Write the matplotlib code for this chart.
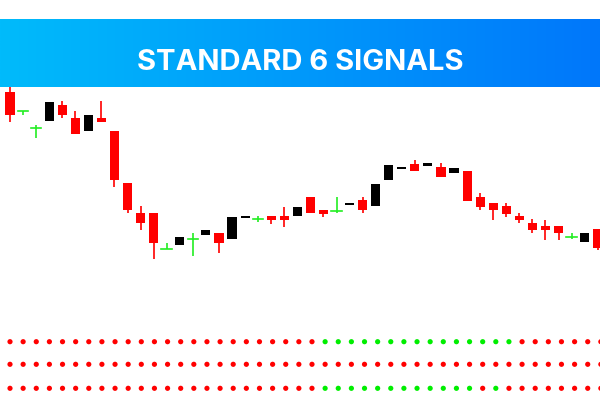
import numpy as np
import matplotlib
matplotlib.use("Agg")
import matplotlib.pyplot as plt
from matplotlib.patches import Rectangle
from matplotlib.colors import LinearSegmentedColormap

# Candle data (price units = 400 - screen y)
px_open  = [91.7,111,127.7,120.7,105,118,130.7,118.3,131,183.3,213,213,249.3,245.3,239.3,235.3,232.7,238.7,218,219.3,216.3,216.3,216,196.7,210,210.7,205,200,206,180,169,164,165.7,166.7,173.3,170.7,196.7,202.7,206,216,222.7,226,226,236.7,242.3,229.3]
px_close = [115,111,127.7,102.3,114.7,134.3,115.3,121.7,180.3,210.3,223.3,243,249.3,237,239.3,230.3,243,217,218,219.3,220,220,207.3,213.3,213.7,210.7,205,210,184.3,164.7,169,170.7,165.7,177.3,168.3,200.7,206.7,210.3,213.7,220,230,230,233,236.7,233.3,248]
px_high  = [86,111,124.7,102.3,101,111,115.3,101,131,183.3,206,213,242.7,237,233,230.3,232.7,217,218,216,216.3,207,207.3,196.7,210,196.7,205,197,184.3,164.7,169,160,165.7,163,168.3,170.7,193,202.7,203,213,219,220,226,233,233.3,229.3]
px_low   = [121.7,115,137.7,120.7,118,134.3,130.7,121.7,187.3,213,230,259.3,249.3,245.3,256,235.3,253,238.7,218,222,224,227,216,213.3,217,213,205,213,206,180,169,170.7,165.7,177.3,173.3,200.7,210,220,217,223,233,240,240,239,242.3,250]
kinds = ['r','g','g','k','r','r','k','r','r','r','r','r','g','k','g','k','r','k','k','g','r','r','k','r','r','g','k','r','k','k','k','r','k','r','k','r','r','r','r','r','r','r','r','g','k','r']

# Signal dot rows: 1 = green, 0 = red
n_dots = 46
row1 = [1 if 24 <= i <= 38 else 0 for i in range(n_dots)]
row2 = [0]*n_dots
row3 = [1 if (24 <= i <= 35 or i == 37) else 0 for i in range(n_dots)]

title = "STANDARD 6 SIGNALS"

fig = plt.figure(figsize=(6, 4), dpi=100)

# Candles
ax = fig.add_axes([0, 0, 1, 1])
ax.set_xlim(-10/13.06, 590/13.06)
ax.set_ylim(0, 400)
ax.axis('off')
cmap = {'r': '#ff0000', 'k': '#000000', 'g': '#22ee22'}
for i, k in enumerate(kinds):
    o, c, h, l = [400 - v for v in (px_open[i], px_close[i], px_high[i], px_low[i])]
    col = cmap[k]
    ax.plot([i, i], [l, h], color=col, lw=1.2, solid_capstyle='butt', zorder=2)
    if k == 'g':
        ax.plot([i-0.4, i+0.4], [o, o], color=col, lw=1.2, zorder=3)
    else:
        b = min(o, c); ht = max(abs(o - c), 2.5)
        ax.add_patch(Rectangle((i-0.35, b), 0.7, ht, color=col, zorder=3, lw=0))

# Dots
ax2 = fig.add_axes([0, 0, 1, 1])
ax2.set_xlim(-10/13.13, (600-10)/13.13)
ax2.set_ylim(0, 400)
ax2.axis('off')
xs = np.arange(n_dots)
for row, y in zip([row1, row2, row3], [400-341.7, 400-364.3, 400-388.3]):
    cols = ['#00ee00' if v else '#ff0000' for v in row]
    ax2.scatter(xs, [y]*n_dots, c=cols, s=14, lw=0)

# Banner
ax3 = fig.add_axes([0, 1-86.7/400, 1, (86.7-18.7)/400])
grad = np.linspace(0, 1, 256).reshape(1, -1)
bcm = LinearSegmentedColormap.from_list('b', ['#00bbfb', '#0077fa'])
ax3.imshow(grad, aspect='auto', cmap=bcm, extent=[0, 1, 0, 1])
ax3.axis('off')
ax3.text(0.5, 0.35, title, ha='center', va='center', color='white',
         fontsize=21, fontweight='bold', family=['Inter', 'DejaVu Sans'])

fig.savefig('out.png', dpi=100)
